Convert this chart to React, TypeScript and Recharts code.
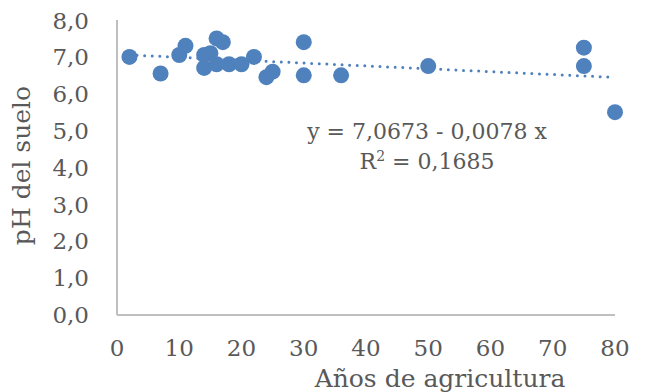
import { ScatterChart, Scatter, XAxis, YAxis, Label } from "recharts"

// Años de agricultura vs pH del suelo
const years = [2, 7, 10, 11, 14, 14, 15, 16, 17, 16, 18, 20, 22, 24, 25, 30, 30, 36, 50, 75, 75, 80]
const ph = [7.0, 6.55, 7.05, 7.3, 7.05, 6.7, 7.1, 7.5, 7.4, 6.8, 6.8, 6.8, 7.0, 6.45, 6.6, 7.4, 6.5, 6.5, 6.75, 7.25, 6.75, 5.5]

const xTicks = [0, 10, 20, 30, 40, 50, 60, 70, 80]
const yTicks = [0, 1, 2, 3, 4, 5, 6, 7, 8]

// linear fit shown on the chart
const intercept = 7.0673
const slope = -0.0078
const r2 = 0.1685

const points = years.map((x, i) => ({ x, y: ph[i] }))
const xMin = Math.min(...years)
const xMax = Math.max(...years)
const trend = [xMin, xMax].map((x) => ({ x, y: intercept + slope * x }))

const BLUE = "#4f81bd"
const TEXT = "#595959"
const FONT = "'DejaVu Serif', serif"
const fmt = (v: number, d: number) => v.toFixed(d).replace(".", ",")

const Dot = (props: any) => <circle cx={props.cx} cy={props.cy} r={8} fill={BLUE} />

export default function App() {
    return (
        <div style={{ position: "relative", width: 638, height: 384, fontFamily: FONT }}>
            <ScatterChart width={638} height={384} margin={{ top: 12, right: 31, bottom: 8, left: 0 }}>
                <XAxis
                    type="number"
                    dataKey="x"
                    domain={[0, 80]}
                    ticks={xTicks}
                    tickLine={false}
                    axisLine={{ stroke: "#bfbfbf", strokeWidth: 2 }}
                    tick={{ fill: TEXT, fontSize: 23, fontFamily: FONT }}
                    tickMargin={19}
                    height={69}
                >
                    <Label
                        value="Años de agricultura"
                        position="insideBottom"
                        offset={-3}
                        dx={74}
                        style={{ fill: TEXT, fontSize: 25, fontFamily: FONT }}
                    />
                </XAxis>
                <YAxis
                    type="number"
                    dataKey="y"
                    domain={[0, 8]}
                    ticks={yTicks}
                    tickFormatter={(v: number) => fmt(v, 1)}
                    tickLine={false}
                    axisLine={{ stroke: "#bfbfbf", strokeWidth: 2 }}
                    tick={{ fill: TEXT, fontSize: 23, fontFamily: FONT }}
                    tickMargin={22}
                    width={109}
                >
                    <Label
                        value="pH del suelo"
                        angle={-90}
                        position="insideLeft"
                        offset={13}
                        dy={-2}
                        style={{ fill: TEXT, fontSize: 25, fontFamily: FONT, textAnchor: "middle" }}
                    />
                </YAxis>
                <Scatter
                    data={trend}
                    isAnimationActive={false}
                    line={{ stroke: BLUE, strokeWidth: 3, strokeDasharray: "0 7.6", strokeLinecap: "round" }}
                    shape={() => <g />}
                />
                <Scatter data={points} fill={BLUE} isAnimationActive={false} shape={Dot} />
            </ScatterChart>
            <div
                style={{
                    position: "absolute",
                    left: 288,
                    top: 109,
                    width: 262,
                    textAlign: "center",
                    color: TEXT,
                    fontSize: 22,
                    lineHeight: "30px",
                }}
            >
                <div>y = {fmt(intercept, 4)} - {fmt(-slope, 4)} x</div>
                <div>
                    R<sup style={{ fontSize: 14, verticalAlign: "8px", lineHeight: 0 }}>2</sup> = {fmt(r2, 4)}
                </div>
            </div>
        </div>
    )
}
